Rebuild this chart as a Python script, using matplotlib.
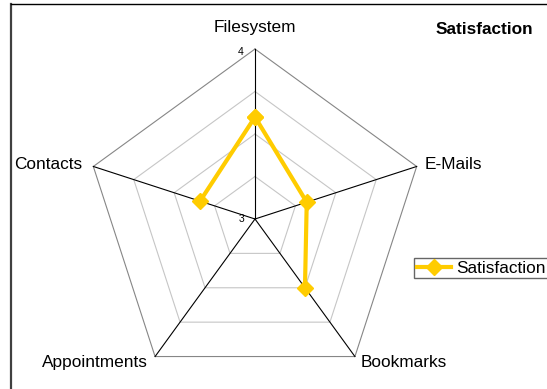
import matplotlib
matplotlib.use("Agg")
import matplotlib.pyplot as plt
import numpy as np

plt.rcParams['font.family'] = ['Liberation Sans', 'DejaVu Sans']

categories = ["Filesystem", "E-Mails", "Bookmarks", "Appointments", "Contacts"]
values = [3.6, 3.32, 3.5, np.nan, 3.34]  # Appointments left blank
r_min, r_max = 3.0, 4.0
levels = [3.25, 3.5, 3.75, 4.0]
series_name = "Satisfaction"

W, H = 547, 389
cx, cy, R = 255, 219, 170  # centre and radius in pixels

fig = plt.figure(figsize=(W / 100, H / 100), dpi=100)
ax = fig.add_axes([0, 0, 1, 1])
ax.set_xlim(-cx / R, (W - cx) / R)
ax.set_ylim((cy - H) / R, cy / R)
ax.axis('off')

theta = np.deg2rad(np.arange(len(categories)) * 360 / len(categories))
def to_xy(v, t):
    r = (np.asarray(v, dtype=float) - r_min) / (r_max - r_min)
    return r * np.sin(t), r * np.cos(t)

# pentagon grid
tt = np.append(theta, theta[0])
for lv in levels:
    gx, gy = to_xy([lv] * len(tt), tt)
    col = '#868686' if lv == r_max else '#c6c6c6'
    ax.plot(gx, gy, color=col, lw=0.8, zorder=1)

# spokes
for t in theta:
    sx, sy = to_xy([r_min, r_max], np.array([t, t]))
    ax.plot(sx, sy, color='black', lw=0.8, zorder=2)

# series
vx, vy = to_xy(values + values[:1], tt)
ax.plot(vx, vy, color='#ffcc00', lw=3, marker='D', ms=8,
        markeredgecolor='#ffcc00', label=series_name, zorder=3)

# category labels
offs = [(0, 21, 'center', 'center'), (8, 2, 'left', 'center'),
        (6, -6, 'left', 'center'), (-7, -6, 'right', 'center'),
        (-11, 2, 'right', 'center')]
for name, t, (dx, dy, ha, va) in zip(categories, theta, offs):
    px, py = to_xy(r_max, t)
    ax.text(px + dx / R, py + dy / R, name, ha=ha, va=va, fontsize=12.4)

# axis tick labels
ax.text(-11 / R, 0.0, "3", ha='right', va='center', fontsize=7.5)
ax.text(-11 / R, 1.0 - 3 / R, "4", ha='right', va='center', fontsize=7.5)

# title
fig.text(484 / W, 1 - 30 / H, series_name, ha='center', va='center',
         fontsize=12.4, fontweight='bold')

# outer frame (partially visible)
ax.plot([10.5 / W, 10.5 / W], [0, 1 - 4 / H], transform=ax.transAxes,
        color='#404040', lw=1.6, clip_on=False)
ax.plot([10.5 / W, 1], [1 - 4 / H, 1 - 4 / H], transform=ax.transAxes,
        color='black', lw=1.0, clip_on=False)

leg = ax.legend(loc='upper left', bbox_to_anchor=(414 / W, 1 - 258 / H),
                bbox_transform=fig.transFigure, fontsize=12.4, frameon=True,
                fancybox=False, borderpad=0.15, handlelength=2.0,
                handletextpad=0.3, borderaxespad=0)
leg.get_frame().set_edgecolor('#404040')
leg.get_frame().set_linewidth(1.0)

fig.savefig("out.png", dpi=100)
